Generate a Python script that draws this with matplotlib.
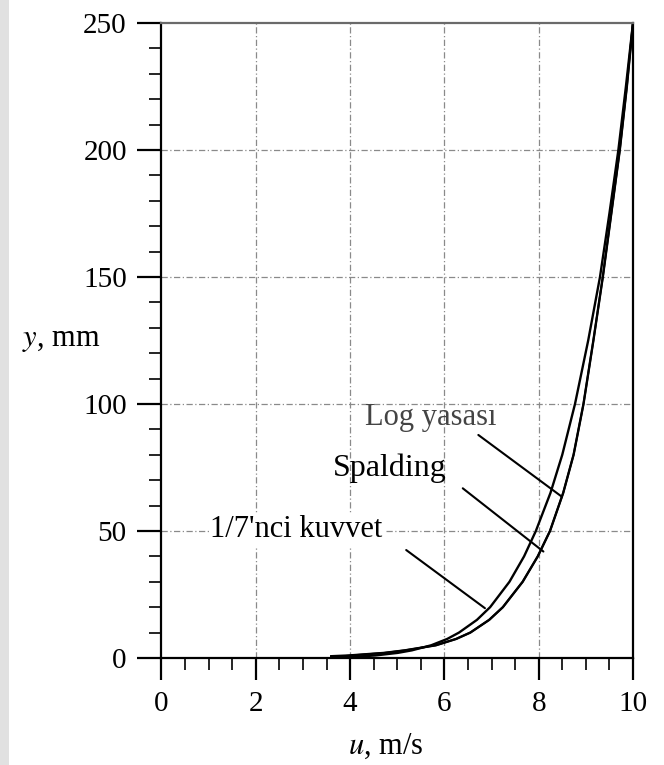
import matplotlib
matplotlib.use("Agg")
import matplotlib.pyplot as plt
from matplotlib.ticker import MultipleLocator
from matplotlib.patches import Rectangle

plt.rcParams["font.family"] = ["Liberation Serif", "DejaVu Serif"]
plt.rcParams["mathtext.fontset"] = "stix"

# Velocity profiles: y (mm) versus u (m/s)
y_power = [0.2, 0.5, 1, 2, 3, 5, 7.5, 10, 15, 20, 30, 40, 50, 65, 80,
           100, 125, 150, 175, 200, 225, 250]
u_power = [3.60, 4.11, 4.54, 5.01, 5.31, 5.72, 6.06, 6.31, 6.69, 6.97, 7.38,
           7.69, 7.94, 8.25, 8.50, 8.77, 9.05, 9.30, 9.50, 9.69, 9.85, 10.0]

y_log = [0.7, 1, 2, 3, 5, 7.5, 10, 15, 20, 30, 40, 50, 65, 80, 100, 125,
         150, 175, 200, 225, 250]
u_log = [3.60, 3.98, 4.72, 5.16, 5.82, 6.25, 6.55, 6.95, 7.24, 7.66, 7.98,
         8.24, 8.52, 8.74, 8.95, 9.16, 9.36, 9.54, 9.72, 9.87, 10.0]

y_spalding = [0.3, 0.5, 1, 2, 3, 5, 7.5, 10, 15, 20, 30, 40, 50, 65, 80,
              100, 125, 150, 175, 200, 225, 250]
u_spalding = [3.60, 3.75, 4.02, 4.73, 5.16, 5.82, 6.25, 6.55, 6.95, 7.24,
              7.66, 7.98, 8.24, 8.52, 8.74, 8.95, 9.16, 9.36, 9.54, 9.72,
              9.87, 10.0]

x_major = [0, 2, 4, 6, 8, 10]
y_major = [0, 50, 100, 150, 200, 250]

fig = plt.figure(figsize=(6.64, 7.65), dpi=100)
fig.patches.append(Rectangle((0, 0), 8.5 / 664, 1, transform=fig.transFigure,
                             facecolor="#e1e1e1", edgecolor="none", zorder=0))

ax = fig.add_axes([0.2432, 0.1399, 0.7101, 0.8301])

ax.plot(u_power, y_power, color="black", lw=1.7)
ax.plot(u_log, y_log, color="black", lw=1.7)
ax.plot(u_spalding, y_spalding, color="black", lw=1.4)

ax.set_xlim(0, 10)
ax.set_ylim(0, 250)
ax.set_xticks(x_major)
ax.set_yticks(y_major)
ax.xaxis.set_minor_locator(MultipleLocator(0.5))
ax.yaxis.set_minor_locator(MultipleLocator(10))

ax.tick_params(which="major", direction="out", length=16, width=1.6,
               labelsize=21, pad=8, colors="black")
ax.tick_params(axis="y", which="major", length=17)
ax.tick_params(which="minor", direction="out", length=8.5, width=1.2)

for x in x_major[1:-1]:
    ax.axvline(x, color="#8a8a8a", lw=0.9, ls=(0, (5, 2, 1, 2)), zorder=0)
for y in y_major[1:-1]:
    ax.axhline(y, color="#8a8a8a", lw=0.9, ls=(0, (5, 2, 1, 2)), zorder=0)

for side in ("left", "bottom", "right"):
    ax.spines[side].set_linewidth(1.6)
    ax.spines[side].set_color("black")
ax.spines["top"].set_linewidth(1.6)
ax.spines["top"].set_color("#6a6a6a")

# Curve labels with leader lines
ax.text(4.32, 94.5, "Log yasası", fontsize=22, color="#444444",
        ha="left", va="center")
ax.annotate("", xy=(8.49, 63.5), xytext=(6.72, 87.8),
            arrowprops=dict(arrowstyle="-", lw=1.5, color="black",
                            shrinkA=0, shrinkB=0))

ax.text(3.64, 74.8, "Spalding", fontsize=23, color="black",
        ha="left", va="center")
ax.annotate("", xy=(8.10, 41.9), xytext=(6.39, 66.8),
            arrowprops=dict(arrowstyle="-", lw=1.5, color="black",
                            shrinkA=0, shrinkB=0))

ax.text(1.03, 50.4, "1/7'nci kuvvet", fontsize=22, color="black",
        ha="left", va="center",
        bbox=dict(facecolor="white", edgecolor="none", pad=1))
ax.annotate("", xy=(6.86, 19.6), xytext=(5.19, 42.5),
            arrowprops=dict(arrowstyle="-", lw=1.5, color="black",
                            shrinkA=0, shrinkB=0))

fig.text(22 / 664, 1 - 339 / 765, r"$y$, mm", fontsize=22,
         ha="left", va="center")
fig.text(386 / 664, 1 - 746 / 765, r"$u$, m/s", fontsize=22,
         ha="center", va="center")

fig.savefig("out.png", dpi=100)
